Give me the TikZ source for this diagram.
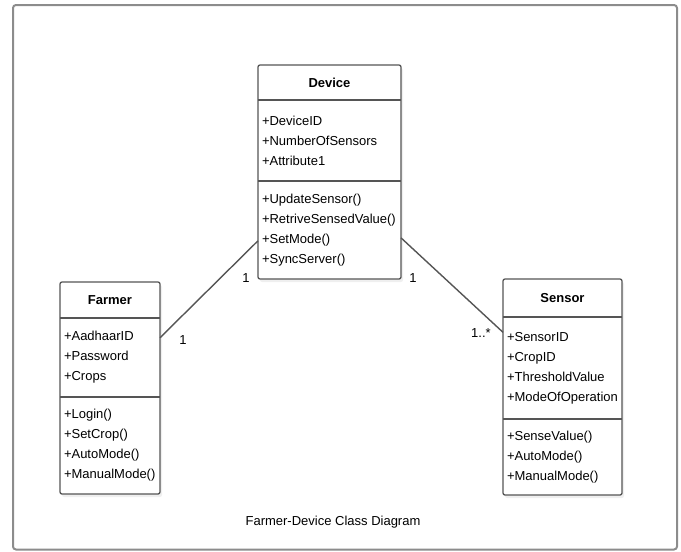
\documentclass[tikz,border=0pt]{standalone}
\usepackage{fontspec}
\setmainfont{Liberation Sans}
\usetikzlibrary{positioning,calc,shadows,backgrounds}
\definecolor{boxline}{HTML}{555555}
\definecolor{framegray}{HTML}{8C8C8C}
\tikzset{
  classhead/.style={anchor=north west, inner sep=0pt, outer sep=0pt, align=center,
    font=\fontsize{13}{16}\selectfont\bfseries},
  classpart/.style={inner xsep=4pt, inner ysep=0pt, outer sep=0pt, align=left,
    font=\fontsize{13}{20}\selectfont},
  classbox/.style={draw=boxline, line width=1.3pt, rounded corners=2pt, fill=white,
    drop shadow={shadow xshift=2pt, shadow yshift=-3pt, fill=black!12}},
  divider/.style={draw=boxline, line width=1.3pt},
  assoc/.style={draw=boxline, line width=1.4pt},
  mult/.style={font=\fontsize{13}{16}\selectfont},
}
\begin{document}
\begin{tikzpicture}[x=1pt, y=-1pt]
  \useasboundingbox (0,0) rectangle (681,552);
  \draw[framegray, line width=2pt, rounded corners=3pt] (13,5) rectangle (677,549.5);

  % Device
  \node[classhead, minimum width=143pt, minimum height=35pt] (device-head) at (258,65) {Device};
  \node[classpart, text width=135pt, minimum height=81pt, below=0pt of device-head] (device-attr)
    {+DeviceID\\+NumberOfSensors\\+Attribute1};
  \node[classpart, text width=135pt, minimum height=98pt, below=0pt of device-attr] (device-ops)
    {+UpdateSensor()\\+RetriveSensedValue()\\+SetMode()\\+SyncServer()};

  % Farmer
  \node[classhead, minimum width=100pt, minimum height=36pt] (farmer-head) at (60,282) {Farmer};
  \node[classpart, text width=92pt, minimum height=79pt, below=0pt of farmer-head] (farmer-attr)
    {+AadhaarID\\+Password\\+Crops};
  \node[classpart, text width=92pt, minimum height=97pt, below=0pt of farmer-attr] (farmer-ops)
    {+Login()\\+SetCrop()\\+AutoMode()\\+ManualMode()};

  % Sensor
  \node[classhead, minimum width=119pt, minimum height=38pt] (sensor-head) at (503,279) {Sensor};
  \node[classpart, text width=111pt, minimum height=102pt, below=0pt of sensor-head] (sensor-attr)
    {+SensorID\\+CropID\\+ThresholdValue\\+ModeOfOperation};
  \node[classpart, text width=111pt, minimum height=76pt, below=0pt of sensor-attr] (sensor-ops)
    {+SenseValue()\\+AutoMode()\\+ManualMode()};

  \begin{pgfonlayer}{background}
    \foreach \c in {device,farmer,sensor} {
      \draw[classbox] (\c-head.north west) rectangle (\c-ops.south east);
      \draw[divider] (\c-head.south west) -- (\c-head.south east);
      \draw[divider] (\c-attr.south west) -- (\c-attr.south east);
    }
  \end{pgfonlayer}

  % associations
  \coordinate (fd-a) at ($(farmer-attr.north east)!0.25!(farmer-attr.south east)$);
  \coordinate (fd-b) at ($(device-ops.north west)!0.61!(device-ops.south west)$);
  \coordinate (ds-a) at ($(device-ops.north east)!0.58!(device-ops.south east)$);
  \coordinate (ds-b) at ($(sensor-attr.north west)!0.15!(sensor-attr.south west)$);
  \draw[assoc] (fd-a) -- (fd-b);
  \draw[assoc] (ds-a) -- (ds-b);

  \node[mult] (fd-ma) at ($(fd-a)+(23,2)$) {1};
  \node[mult] (fd-mb) at ($(fd-b)+(-12,37)$) {1};
  \node[mult] (ds-ma) at ($(ds-a)+(12,40)$) {1};
  \node[mult] (ds-mb) at ($(ds-b)+(-22,1)$) {1..*};

  \node[font=\fontsize{13}{16}\selectfont] (caption) at (333,522) {Farmer-Device Class Diagram};
\end{tikzpicture}
\end{document}
